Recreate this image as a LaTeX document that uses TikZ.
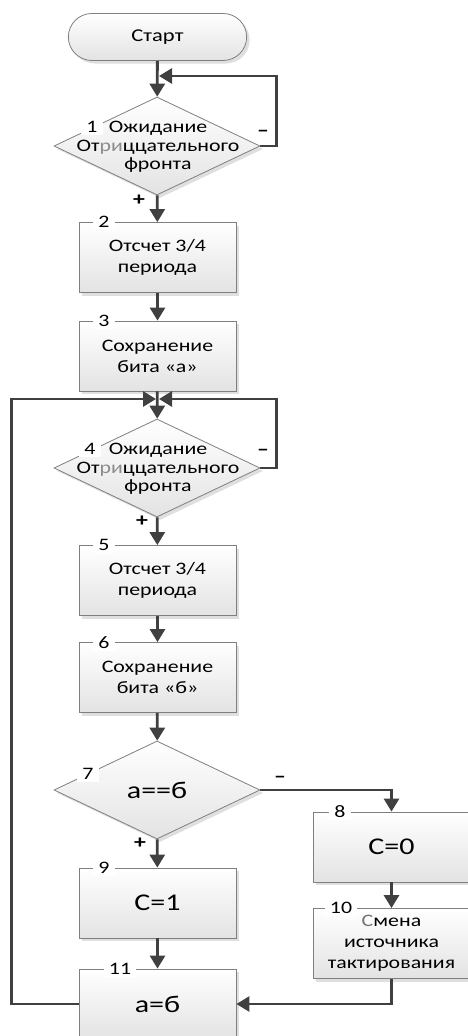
\documentclass[tikz,border=0pt]{standalone}
\usepackage{fontspec}
\setmainfont{Carlito}[FakeStretch=1.25]
\usetikzlibrary{shapes.geometric,shapes.misc,arrows.meta,shadows}

\definecolor{linegray}{HTML}{404040}
\definecolor{framegray}{HTML}{7F7F7F}

\begin{document}
\begin{tikzpicture}[x=1pt,y=-1pt,
    shade/.style={draw=framegray, line width=0.8pt, top color=white, bottom color=black!11,
        drop shadow={opacity=0.25, shadow xshift=3pt, shadow yshift=-3pt}},
    term/.style={rounded rectangle, shade, minimum width=185pt, minimum height=47pt,
        font=\fontsize{18}{20}\selectfont},
    blk/.style={rectangle, shade, minimum width=157pt, minimum height=70pt, inner sep=0pt,
        align=center, font=\fontsize{17.5}{21}\selectfont},
    big/.style={font=\fontsize{24}{28}\selectfont},
    dec/.style={diamond, shade, minimum width=206pt, minimum height=98pt, inner sep=0pt},
    dtext/.style={align=center, font=\fontsize{17.5}{18.5}\selectfont},
    num/.style={fill=white, inner xsep=5pt, inner ysep=2pt, font=\fontsize{17.5}{18}\selectfont},
    sign/.style={font=\fontsize{19}{20}\selectfont\bfseries, inner sep=0pt},
    arr/.style={draw=linegray, line width=2.8pt, line join=miter,
        -{Triangle[length=13pt,width=15pt]}}]
    \useasboundingbox (0,0) rectangle (467,1036);

    % blocks
    \node[term] (start) at (157.5,37) {Старт};
    \node[dec] (d1) at (157,146) {};
    \node[dtext] (t1) at (158,147) {Ожидание\\От\textcolor{black!45}{ри}ццательного\\фронта};
    \node[blk] (b2) at (157.5,257.5) {Отсчет 3/4\\периода};
    \node[blk] (b3) at (157.5,356) {Сохранение\\бита «а»};
    \node[dec] (d4) at (157,468) {};
    \node[dtext] (t4) at (158,469) {Ожидание\\От\textcolor{black!45}{ри}ццательного\\фронта};
    \node[blk] (b5) at (157.5,580.5) {Отсчет 3/4\\периода};
    \node[blk] (b6) at (157.5,677.5) {Сохранение\\бита «б»};
    \node[dec] (d7) at (157,790) {};
    \node[dtext, big] (t7) at (d7) {а==б};
    \node[blk, big] (b8) at (391.5,847) {С=0};
    \node[blk, big] (b9) at (157.5,903) {С=1};
    \node[blk] (b10) at (391.5,943.5) {\textcolor{black!55}{С}мена\\источника\\тактирования};
    \node[blk, big] (b11) at (157.5,1004) {а=б};

    % numbers
    \node[num] (n1) at (92,127) {1};
    \node[num] (n2) at (104,222) {2};
    \node[num] (n3) at (104,321) {3};
    \node[num] (n4) at (90,449) {4};
    \node[num] (n5) at (104,545) {5};
    \node[num] (n6) at (104,643) {6};
    \node[num] (n7) at (88,774) {7};
    \node[num] (n8) at (340,812) {8};
    \node[num] (n9) at (104,868) {9};
    \node[num] (n10) at (341,908) {10};
    \node[num] (n11) at (120,969) {11};

    % branch signs
    \node[sign] (p1) at (139,200) {+};
    \node[sign] (m1) at (263,133) {–};
    \node[sign] (p4) at (142,521) {+};
    \node[sign] (m4) at (263,452) {–};
    \node[sign] (p7) at (140,843) {+};
    \node[sign] (m7) at (280,779) {–};

    % joins
    \coordinate (j1) at (159,76);
    \coordinate (j4r) at (159,399);
    \coordinate (j4l) at (156,399);

    % connectors
    \draw[arr] (start) -- (d1);
    \draw[arr] (d1.east) -- ++(16,0) |- (j1);
    \draw[arr] (d1) -- (b2);
    \draw[arr] (b2) -- (b3);
    \draw[arr] (b3) -- (d4);
    \draw[arr] (d4.east) -- ++(16,0) |- (j4r);
    \draw[arr] (b11.west) -- ++(-67,0) |- (j4l);
    \draw[arr] (d4) -- (b5);
    \draw[arr] (b5) -- (b6);
    \draw[arr] (b6) -- (d7);
    \draw[arr] (d7.east) -| (b8.north);
    \draw[arr] (d7) -- (b9);
    \draw[arr] (b8) -- (b10);
    \draw[arr] (b9) -- (b11);
    \draw[arr] (b10.south) |- (b11.east);
\end{tikzpicture}
\end{document}
